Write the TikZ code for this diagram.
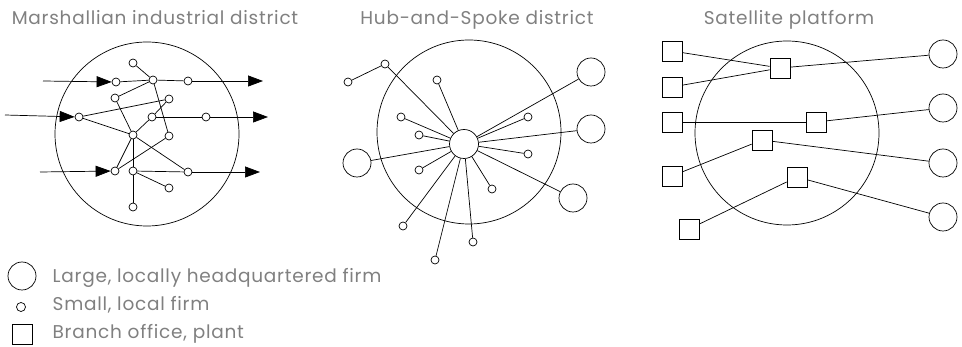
\documentclass[tikz,border=0pt]{standalone}
\usepackage{fontspec}
\setmainfont{Poppins}[LetterSpace=4]
\usetikzlibrary{arrows.meta,positioning}

\begin{document}
\begin{tikzpicture}[x=1pt, y=-1pt, line width=0.7pt,
    firm/.style={circle, draw, inner sep=0pt, minimum size=8pt},
    bigfirm/.style={circle, draw, inner sep=0pt, minimum size=28pt},
    hub/.style={circle, draw, inner sep=0pt, minimum size=29pt},
    branch/.style={rectangle, draw, inner sep=0pt, minimum size=20pt},
    region/.style={circle, draw, inner sep=0pt, minimum size=184pt},
    flow/.style={-{Triangle[length=15pt,width=11pt]}},
    title/.style={text=black!50, anchor=base, font=\fontsize{18.5}{22}\selectfont},
    key/.style={text=black!50, anchor=base west, font=\fontsize{18.5}{22}\selectfont}]
    \useasboundingbox (0,0) rectangle (962,347);

    % titles
    \node[title] (t1) at (155,25) {Marshallian industrial district};
    \node[title] (t2) at (477,25) {Hub-and-Spoke district};
    \node[title] (t3) at (789,25) {Satellite platform};

    % Marshallian district
    \node[region] (m0) at (147,134) {};
    \node[firm] (ma) at (133,63) {};
    \node[firm] (mb) at (116,82) {};
    \node[firm] (mc) at (153,80) {};
    \node[firm] (md) at (188,81) {};
    \node[firm] (me) at (115,98) {};
    \node[firm] (mf) at (169,99) {};
    \node[firm] (mg) at (79,117) {};
    \node[firm] (mh) at (152,117) {};
    \node[firm] (mi) at (206,117) {};
    \node[firm] (mj) at (133,135) {};
    \node[firm] (mk) at (169,136) {};
    \node[firm] (ml) at (115,171) {};
    \node[firm] (mm) at (133,171) {};
    \node[firm] (mn) at (188,172) {};
    \node[firm] (mo) at (169,188) {};
    \node[firm] (mp) at (133,207) {};
    \coordinate (in1) at (43,81);
    \coordinate (in2) at (5,115);
    \coordinate (in3) at (40,172);
    \coordinate (out1) at (263,81);
    \coordinate (out2) at (268,117);
    \coordinate (out3) at (260,172);
    \draw[flow] (in1) -- (mb);
    \draw[flow] (in2) -- (mg);
    \draw[flow] (in3) -- (ml);
    \draw[flow] (md) -- (out1);
    \draw[flow] (mi) -- (out2);
    \draw[flow] (mn) -- (out3);
    \draw (mb) -- (mc);
    \draw (ma) -- (mc);
    \draw (mc) -- (md);
    \draw (mc) -- (me);
    \draw (mc) -- (mk);
    \draw (me) -- (mj);
    \draw (mg) -- (mf);
    \draw (mg) -- (mj);
    \draw (mf) -- (mh);
    \draw (mh) -- (mi);
    \draw (mh) -- (mj);
    \draw (mj) -- (ml);
    \draw (mj) -- (mm);
    \draw (mj) -- (mn);
    \draw (ml) -- (mk);
    \draw (mm) -- (mn);
    \draw (mm) -- (mo);
    \draw (mm) -- (mp);

    % Hub-and-Spoke district
    \node[region] (h0) at (469,132) {};
    \node[hub] (hh) at (464,144) {};
    \node[bigfirm] (hL1) at (591,72) {};
    \node[bigfirm] (hL2) at (591,129) {};
    \node[bigfirm] (hL3) at (357,163) {};
    \node[bigfirm] (hL4) at (573,198) {};
    \node[firm] (hs1) at (348,82) {};
    \node[firm] (hs2) at (385,64) {};
    \node[firm] (hs3) at (437,80) {};
    \node[firm] (hs4) at (401,117) {};
    \node[firm] (hs5) at (419,135) {};
    \node[firm] (hs6) at (528,117) {};
    \node[firm] (hs7) at (528,154) {};
    \node[firm] (hs8) at (419,170) {};
    \node[firm] (hs9) at (492,189) {};
    \node[firm] (hs10) at (403,226) {};
    \node[firm] (hs11) at (473,242) {};
    \node[firm] (hs12) at (435,260) {};
    \draw (hs1) -- (hs2);
    \foreach \s in {hs2,hs3,hs4,hs5,hs6,hs7,hs8,hs9,hs10,hs11,hs12,hL1,hL2,hL3,hL4}
        \draw (hh) -- (\s);

    % Satellite platform
    \node[region] (s0) at (787,133) {};
    \node[branch] (sq1) at (672,51) {};
    \node[branch] (sq2) at (672,87) {};
    \node[branch] (sq3) at (672,122) {};
    \node[branch] (sq4) at (672,176) {};
    \node[branch] (sq5) at (689,229) {};
    \node[branch] (sr1) at (780,68) {};
    \node[branch] (sr2) at (816,122) {};
    \node[branch] (sr3) at (762,140) {};
    \node[branch] (sr4) at (797,177) {};
    \node[bigfirm] (sc1) at (943,54) {};
    \node[bigfirm] (sc2) at (943,108) {};
    \node[bigfirm] (sc3) at (943,163) {};
    \node[bigfirm] (sc4) at (943,217) {};
    \draw (sq1) -- (sr1);
    \draw (sq2) -- (sr1);
    \draw (sr1) -- (sc1);
    \draw (sq3) -- (sr2);
    \draw (sr2) -- (sc2);
    \draw (sq4) -- (sr3);
    \draw (sr3) -- (sc3);
    \draw (sq5) -- (sr4);
    \draw (sr4) -- (sc4);

    % legend
    \node[bigfirm] (k1) at (22,276) {};
    \node[firm, minimum size=9pt] (k2) at (21,307) {};
    \node[branch] (k3) at (22,334) {};
    \node[key] (k1t) at (49,283) {Large, locally headquartered firm};
    \node[key] (k2t) at (49,311) {Small, local firm};
    \node[key] (k3t) at (49,339) {Branch office, plant};
\end{tikzpicture}
\end{document}
